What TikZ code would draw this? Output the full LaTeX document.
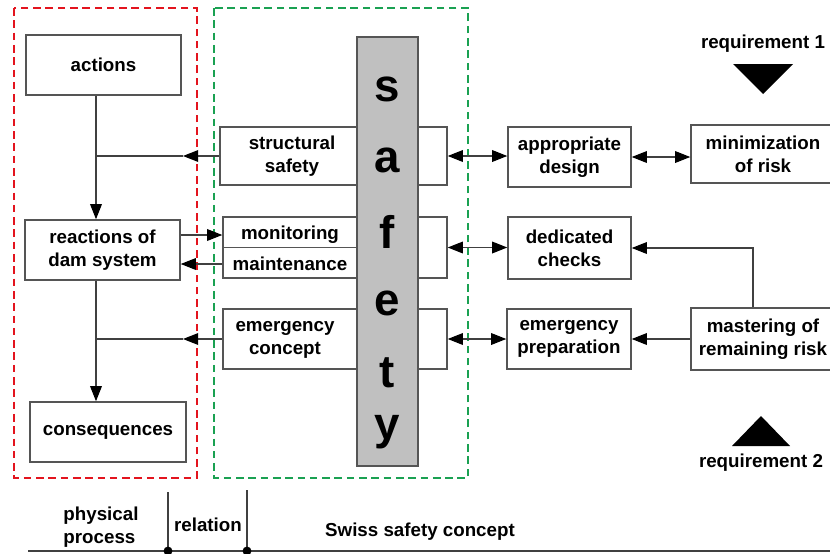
\documentclass[tikz,border=0pt]{standalone}
\usepackage{fontspec}
\setmainfont{Liberation Sans}
\usetikzlibrary{arrows.meta}

\definecolor{boxgray}{HTML}{555555}
\definecolor{linegray}{HTML}{404040}
\definecolor{redline}{HTML}{E3141E}
\definecolor{greenline}{HTML}{1AA152}
\definecolor{bargray}{HTML}{C0C0C0}

\tikzset{
  lbl/.style={font=\fontsize{16}{19.5}\selectfont\bfseries, align=center, inner sep=0pt},
  box/.style={lbl, draw=boxgray, line width=1.2pt, minimum height=1.8cm},
  bar/.style={draw=boxgray, fill=bargray, line width=1.2pt},
  bigletter/.style={font=\fontsize{39}{41}\selectfont\bfseries, inner sep=0pt},
  conn/.style={draw=linegray, line width=1pt},
  redframe/.style={draw=redline, line width=1.7pt, dash pattern=on 6.5pt off 4pt},
  greenframe/.style={draw=greenline, line width=1.7pt, dash pattern=on 6.5pt off 4pt}
}

\begin{document}
\begin{tikzpicture}[x=0.03cm, y=-0.03cm, >={Triangle[length=13pt,width=10pt,color=black]}]
	\useasboundingbox (0,0) rectangle (830,554);

	\draw[redframe] (14,8) rectangle (197,478);
	\draw[greenframe] (214,8) rectangle (468,478);

	% physical process
	\node[box, minimum width=4.65cm] (act) at (103.5,65) {actions};
	\node[box, minimum width=4.65cm] (react) at (102.5,250) {reactions of\\dam system};
	\node[box, minimum width=4.68cm] (cons) at (108,432) {consequences};
	\coordinate (spine) at (96,0);
	\coordinate (cut) at (183,0);

	% safety column
	\node[box, minimum width=6.81cm, minimum height=1.74cm] (ss) at (333.5,156) {};
	\node[box, minimum width=6.72cm, minimum height=1.83cm] (mm) at (335,247.5) {};
	\node[box, minimum width=6.72cm] (ec) at (335,339) {};
	\node[bar, minimum width=1.83cm, minimum height=12.87cm] (bar) at (387.5,251.5) {};
	\draw[draw=boxgray, line width=1.2pt] (mm.west) -- (mm.west -| bar.west);
	\foreach \l/\y in {s/89,a/160,f/232,e/303,t/373,y/432}
		\node[bigletter] at (387.5,\y) {\l};

	\node[lbl] (sstext) at (292,156) {structural\\safety};
	\node[lbl] (mon) at (290,235) {monitoring};
	\node[lbl] (maint) at (290,264) {maintenance};
	\node[lbl] (ectext) at (285,340) {emergency\\concept};

	% requirements
	\node[box, minimum width=3.69cm] (ad) at (569.5,157) {appropriate\\design};
	\node[box, minimum width=4.32cm, minimum height=1.74cm] (mr) at (763,154) {minimization\\of risk};
	\node[box, minimum width=3.69cm, minimum height=1.86cm] (dc) at (569.5,248) {dedicated\\checks};
	\node[box, minimum width=3.72cm] (ep) at (569,339) {emergency\\preparation};
	\node[box, minimum width=4.32cm, minimum height=1.86cm] (mrr) at (763,339) {mastering of\\remaining risk};

	\node[lbl] (req1) at (763,44) {requirement 1};
	\fill (733,64) -- (793,64) -- (763,94) -- cycle;
	\fill (732,446) -- (790,446) -- (761,416) -- cycle;
	\node[lbl] (req2) at (761,463) {requirement 2};

	% connectors
	\draw[conn, ->] (act.south -| spine) -- (react.north -| spine);
	\draw[conn, ->] (react.south -| spine) -- (cons.north -| spine);
	\draw[conn, ->] (ss.west) -- (ss.west -| cut);
	\draw[conn] (ss.west -| cut) -- (ss.west -| spine);
	\draw[conn, ->] (react.east |- mon) -- (mm.west |- mon);
	\draw[conn, ->] (mm.west |- maint) -- (react.east |- maint);
	\draw[conn, ->] (ec.west) -- (ec.west -| cut);
	\draw[conn] (ec.west -| cut) -- (ec.west -| spine);

	\draw[conn, <->] (ss.east) -- (ss.east -| ad.west);
	\draw[conn, <->] (mm.east) -- (mm.east -| dc.west);
	\draw[conn, <->] (ec.east) -- (ec.east -| ep.west);
	\draw[conn, <->] (ad.east) -- (ad.east -| mr.west);
	\draw[conn, ->] ([xshift=-0.3cm]mrr.north) |- (dc.east);
	\draw[conn, ->] (mrr.west) -- (ep.east);

	% bottom axis
	\coordinate (base0) at (28,551);
	\coordinate (base1) at (835,551);
	\coordinate (tick1) at (168,492);
	\coordinate (tick2) at (247,490);
	\draw[conn] (base0) -- (base1);
	\draw[conn] (tick1) -- (tick1 |- base0);
	\draw[conn] (tick2) -- (tick2 |- base0);
	\fill (tick1 |- base0) circle (3.8pt);
	\fill (tick2 |- base0) circle (3.8pt);
	\node[lbl, align=left] (phys) at (101,527) {physical\\process};
	\node[lbl] (rel) at (208,525) {relation};
	\node[lbl] (swiss) at (420,532) {Swiss safety concept};
\end{tikzpicture}
\end{document}
